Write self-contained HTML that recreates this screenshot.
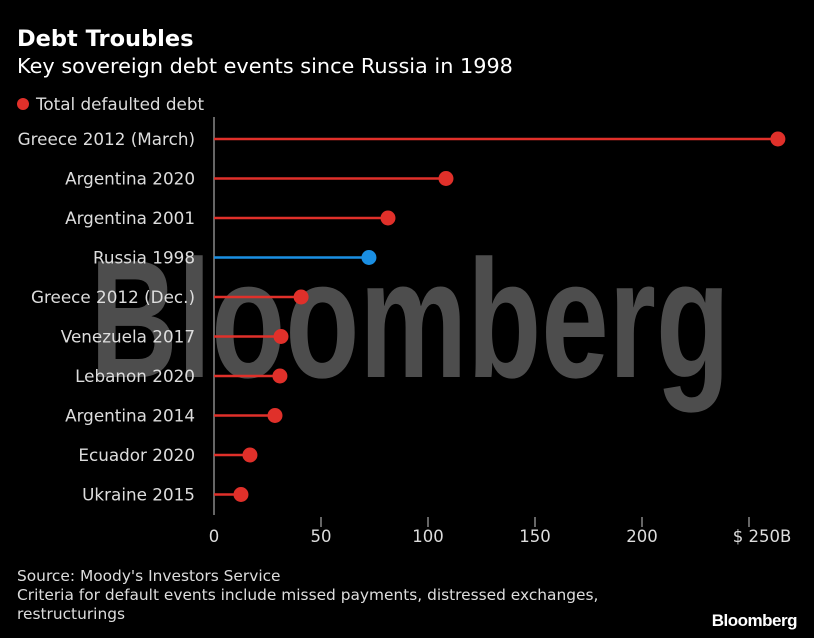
<!DOCTYPE html>
<html><head><meta charset="utf-8"><style>
body{margin:0;background:#000;width:814px;height:638px;overflow:hidden;font-family:"DejaVu Sans",sans-serif;color:#fff}
#title{position:absolute;left:17px;top:26px;font-size:22.5px;font-weight:bold}
#sub{position:absolute;left:17px;top:54px;font-size:20.8px}
#legend{position:absolute;left:17px;top:94px;font-size:16.8px;color:#ddd}
#legend span{display:inline-block;width:12px;height:12px;border-radius:50%;background:#e0302a;margin-right:7px;vertical-align:0px}
.foot{position:absolute;left:17px;font-size:15.4px;color:#ddd;line-height:19px}
#brand{position:absolute;right:17px;top:611px;font-size:17px;font-weight:bold;letter-spacing:-0.5px;font-family:"Liberation Sans",sans-serif}
svg{position:absolute;left:0;top:0}
</style></head><body>
<div id="title">Debt Troubles</div>
<div id="sub">Key sovereign debt events since Russia in 1998</div>
<div id="legend"><span></span>Total defaulted debt</div>
<svg id="chart" width="814" height="638">
<text x="90" y="377" font-size="168" font-weight="bold" fill="#fff" fill-opacity="0.3" textLength="640" lengthAdjust="spacingAndGlyphs" font-family="Liberation Sans, sans-serif">Bloomberg</text>
</svg>
<div class="foot" style="top:567px">Source: Moody's Investors Service<br>Criteria for default events include missed payments, distressed exchanges,<br>restructurings</div>
<div id="brand">Bloomberg</div>
<script>
const categories=["Greece 2012 (March)","Argentina 2020","Argentina 2001","Russia 1998","Greece 2012 (Dec.)","Venezuela 2017","Lebanon 2020","Argentina 2014","Ecuador 2020","Ukraine 2015"];
const values=[263.5,108.4,81.3,72.4,40.7,31.3,30.8,28.5,16.8,12.6];
const highlight=["Russia 1998"];
const ticks=[0,50,100,150,200,250];
const tickLabels=["0","50","100","150","200","$ 250B"];
const NS="http://www.w3.org/2000/svg";
const svg=document.getElementById('chart');
const x=v=>214+v*2.14;
const y=i=>139+i*39.5;
function mk(t,a){const e=document.createElementNS(NS,t);for(const k in a)e.setAttribute(k,a[k]);svg.appendChild(e);return e;}
const ax=mk('line',{x1:214,x2:214,y1:117,y2:515,stroke:'#888','stroke-width':1.5});


ticks.forEach((t,i)=>{
  if(t>0){const tk=mk('line',{x1:x(t),x2:x(t),y1:517,y2:527,stroke:'#aaa','stroke-width':1.2});
  
  }
  const tl=mk('text',{x:x(t)+(i==5?13:0),y:542,'font-size':16.5,fill:'#ddd','text-anchor':'middle'});
  tl.textContent=tickLabels[i];
  
  
});
categories.forEach((c,i)=>{
  const col=highlight.includes(c)?'#1a8fe3':'#e0302a';
  const lb=mk('text',{x:195,y:y(i)+6,'font-size':16.8,fill:'#ddd','text-anchor':'end'});
  lb.textContent=c;
  
  
  const ln=mk('line',{x1:x(0),x2:x(values[i]),y1:y(i),y2:y(i),stroke:col,'stroke-width':2.5});
  
  
  const d=mk('circle',{cx:x(values[i]),cy:y(i),r:7.5,fill:col});
  
  
});
</script>
</body></html>
